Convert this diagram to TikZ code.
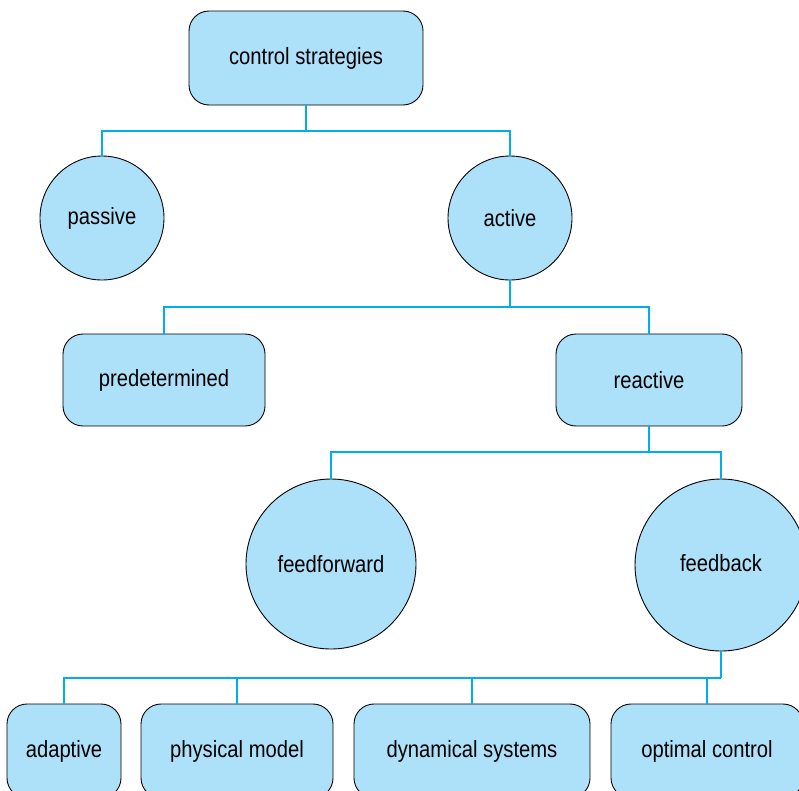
\documentclass[tikz,border=0pt]{standalone}
\usepackage{fontspec}
\setmainfont[FakeStretch=0.86]{Liberation Sans}
\usetikzlibrary{calc}

\begin{document}
\begin{tikzpicture}[
  x=1pt,
  y=-1pt,
  box/.style={rectangle, rounded corners=20pt, draw=black, line width=0.9pt,
    fill=boxblue, minimum width=#1, minimum height=94pt, inner sep=0pt},
  disc/.style={circle, draw=black, line width=0.9pt, fill=boxblue,
    minimum size=#1, inner sep=0pt},
  link/.style={draw=linkcyan, line width=2pt},
  every node/.style={font=\fontsize{23.5}{27}\selectfont}
]
\definecolor{boxblue}{RGB}{173,224,249}
\definecolor{linkcyan}{RGB}{0,174,239}

\useasboundingbox (0,0) rectangle (799,790);
\clip (0,0) rectangle (799,790);

% Nodes, top to bottom.
\node[box=234pt] (strategies) at (306,58) {control strategies};
\node[disc=124pt] (passive) at (102,218) {passive};
\node[disc=124pt] (active) at (510,218) {active};
\node[box=202pt, minimum height=92pt] (predetermined) at (164,380) {predetermined};
\node[box=186pt, minimum height=92pt] (reactive) at (649,380) {reactive};
\node[disc=170pt] (feedforward) at (331,564) {feedforward};
\node[disc=172pt] (feedback) at (721,565) {\raisebox{4pt}{feedback}};
\node[box=114pt] (adaptive) at (64,751) {adaptive};
\node[box=192pt] (physical) at (237,751) {physical model};
\node[box=236pt] (dynamical) at (472,751) {dynamical systems};
\node[box=192pt] (optimal) at (707,751) {optimal control};

% Junction points of the tree.
\coordinate (j1) at ([yshift=-26pt]strategies.south);
\coordinate (j2) at ([yshift=-27pt]active.south);
\coordinate (j3) at ([yshift=-26pt]reactive.south);
\coordinate (j4) at ([yshift=-27pt]feedback.south);

% Connectors.
\draw[link] (strategies.south) -- (j1);
\draw[link] (passive.north) |- (j1) -| (active.north);
\draw[link] (active.south) -- (j2);
\draw[link] (predetermined.north) |- (j2) -| (reactive.north);
\draw[link] (reactive.south) -- (j3);
\draw[link] (feedforward.north) |- (j3) -| (feedback.north);
\draw[link] (feedback.south) -- (j4);
\draw[link] (adaptive.north) |- (j4);
\draw[link] (j4) -| (optimal.north);
\draw[link] (physical.north) -- (physical.north |- j4);
\draw[link] (dynamical.north) -- (dynamical.north |- j4);
\end{tikzpicture}
\end{document}
